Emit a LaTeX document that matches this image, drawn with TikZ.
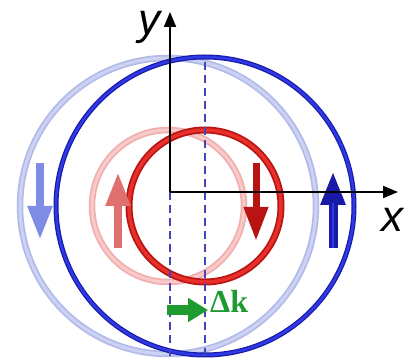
\documentclass[tikz,border=0pt]{standalone}
\usepackage{fontspec}
\setsansfont{Liberation Sans}
\setmainfont{Liberation Serif}
\usepackage{xcolor}
\usepackage{tikz}
\usetikzlibrary{arrows.meta,calc}
\definecolor{bluedeep}{HTML}{1A1AA8}
\definecolor{bluering}{HTML}{2E3AE6}
\definecolor{bluefade}{HTML}{B2BAEA}
\definecolor{bluefadein}{HTML}{CCD2F2}
\definecolor{bluespin}{HTML}{7F8CE4}
\definecolor{reddeep}{HTML}{B81414}
\definecolor{redring}{HTML}{E8302A}
\definecolor{redfade}{HTML}{F0AEAE}
\definecolor{redfadein}{HTML}{F8CACA}
\definecolor{redspin}{HTML}{E07070}
\definecolor{dashblue}{HTML}{4444BC}
\definecolor{shiftgreen}{HTML}{1E9A30}

\begin{document}
\begin{tikzpicture}[
  x=1pt, y=1pt,
  axis/.style     = {draw=black, line width=2pt, -{Triangle[width=12pt,length=15pt]}},
  axlbl/.style    = {font=\sffamily\itshape\fontsize{44}{44}\selectfont, anchor=base, inner sep=0pt},
  ringout/.style  = {line width=6.5pt},
  ringin/.style   = {line width=3pt},
  spin/.style     = {line width=8pt, -{Triangle[width=23pt,length=34pt]}},
  kline/.style    = {draw=dashblue, line width=2pt, dash pattern=on 8pt off 5pt},
  kshift/.style   = {draw=shiftgreen, line width=10pt, -{Triangle[width=23pt,length=20pt]}},
]
\useasboundingbox (0,0) rectangle (404,361);

% ---- centres of the two shifted Fermi circles ----------------------------
\coordinate (O)  at (170,169);
\coordinate (cl) at (168,155);
\coordinate (cd) at (205,155);

% ---- faded (unshifted) circles -------------------------------------------
\draw[ringout, draw=bluefade]   (cl) circle (148);
\draw[ringin,  draw=bluefadein] (cl) circle (148);
\draw[ringout, draw=redfade]    (cl) circle (76);
\draw[ringin,  draw=redfadein]  (cl) circle (76);

% ---- shifted circles -------------------------------------------------------
\draw[ringout, line width=5pt, draw=bluedeep] (cd) circle (149);
\draw[ringin,  line width=2.5pt, draw=bluering] (cd) circle (149);
\draw[ringout, line width=7pt, draw=reddeep] (cd) circle (76);
\draw[ringin,  line width=3.5pt, draw=redring] (cd) circle (76);

% ---- spin arrows -----------------------------------------------------------
\coordinate (s1a) at (40,198);  \coordinate (s1b) at (40,121);
\coordinate (s2a) at (118,113); \coordinate (s2b) at (118,189);
\coordinate (s3a) at (256,198); \coordinate (s3b) at (256,120);
\coordinate (s4a) at (333,113); \coordinate (s4b) at (333,190);

\draw[spin, draw=bluespin, fill=bluespin] (s1a) -- (s1b);
\draw[spin, draw=redspin,  fill=redspin]  (s2a) -- (s2b);
\draw[spin, line width=7pt, draw=reddeep, fill=redring] (s3a) -- (s3b);
\draw[spin, line width=9pt, draw=bluedeep, fill=bluedeep] (s4a) -- (s4b);
\draw[line width=1.5pt, draw=bluering] (s4a) -- ($(s4b)+(0,-32)$);

% ---- dashed lines through both centres --------------------------------------
\coordinate (kl)  at (170,0);
\coordinate (kr0) at (205,299);
\coordinate (kr)  at (205,0);
\draw[kline] (O) -- (kl);
\draw[kline] (kr0) -- (kr);

% ---- shift vector ------------------------------------------------------------
\coordinate (g0) at (167,51);
\coordinate (g1) at (208,51);
\draw[kshift] (g0) -- (g1);
\node[font=\rmfamily\bfseries\fontsize{32}{32}\selectfont, text=shiftgreen,
      anchor=base west, inner sep=0pt] (dk) at (210,48) {Δk};

% ---- axes --------------------------------------------------------------------
\coordinate (ytip) at (170,349);
\coordinate (xtip) at (398,169);
\draw[axis] (O) -- (ytip);
\draw[axis] (O) -- (xtip);
\node[axlbl] (ylab) at (149,326) {y};
\node[axlbl] (xlab) at (392,129) {x};

\end{tikzpicture}
\end{document}
